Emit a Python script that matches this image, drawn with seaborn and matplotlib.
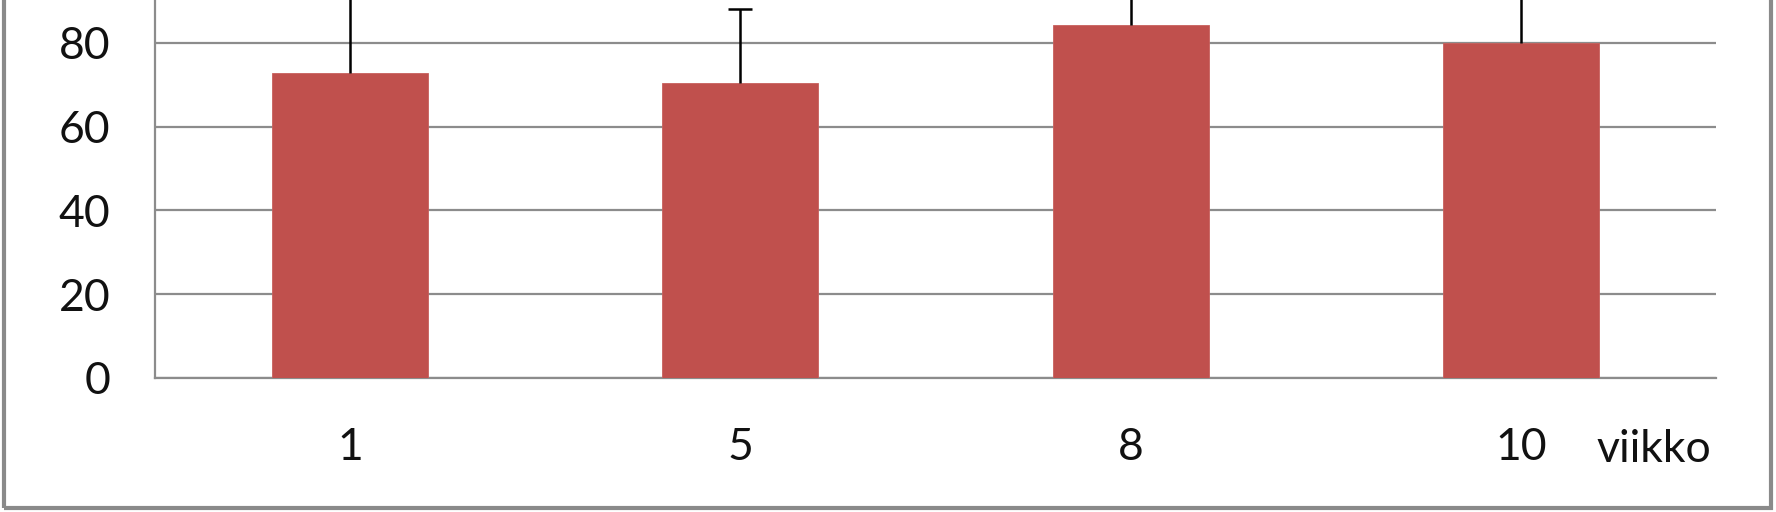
import matplotlib
matplotlib.use("Agg")
import matplotlib.pyplot as plt
import matplotlib.transforms as mtransforms
from matplotlib.patches import Rectangle
import seaborn as sns
import pandas as pd

# ---- data ----
weeks = ["1", "5", "8", "10"]
means = [72.7, 70.3, 84.2, 80.0]
err_plus = [20.0, 17.7, 12.0, 15.0]
y_ticks = [0, 20, 40, 60, 80]
x_unit_label = "viikko"

sns.set_theme(style="white")
plt.rcParams["font.family"] = ["Lato", "DejaVu Sans"]

W, H, DPI = 1776, 512, 100
fig = plt.figure(figsize=(W / DPI, H / DPI), dpi=DPI)
fig.patch.set_facecolor("white")

left_px, right_px, bottom_px = 155, 1716, 378
ax = fig.add_axes([left_px / W, (H - bottom_px) / H,
                   (right_px - left_px) / W, bottom_px / H])

df = pd.DataFrame({"week": weeks, "value": means})
sns.barplot(data=df, x="week", y="value", order=weeks, color="#C0504D",
            saturation=1, width=0.4, edgecolor="#C8605D", linewidth=0.6,
            errorbar=None, ax=ax, zorder=3)

xs = list(range(len(weeks)))
# plus-only error bars: stem without caps, then a cap at the top only
ax.errorbar(xs, means, yerr=[[0] * len(means), err_plus], fmt="none",
            ecolor="black", elinewidth=1.8, capsize=0, zorder=4)
tops = [m + e for m, e in zip(means, err_plus)]
ax.plot(xs, tops, linestyle="none", marker="_", markersize=17.3,
        markeredgewidth=1.8, color="black", zorder=4)

ax.set_ylim(0, 90.2)
ax.set_xlim(-0.5, len(weeks) - 0.5)
ax.set_yticks(y_ticks)
ax.set_yticklabels([str(t) for t in y_ticks])
ax.yaxis.grid(True, color="#8C8C8C", linewidth=1.6, zorder=0)
ax.xaxis.grid(False)
ax.set_axisbelow(True)

for side in ["top", "right"]:
    ax.spines[side].set_visible(False)
for side in ["left", "bottom"]:
    ax.spines[side].set_visible(True)
    ax.spines[side].set_color("#8C8C8C")
    ax.spines[side].set_linewidth(1.6)

ax.tick_params(axis="y", length=0, pad=32, labelsize=32, labelcolor="#111111")
ax.tick_params(axis="x", length=0, pad=35, labelsize=32, labelcolor="#111111")
ax.set_xlabel("")
ax.set_ylabel("")

# unit label on the right of the x tick labels
trans = mtransforms.blended_transform_factory(ax.transAxes, ax.transAxes)
ax.text(0.997, -(35 * DPI / 72 + 2) / bottom_px, x_unit_label,
        transform=trans, ha="right", va="top",
        fontsize=32, color="#111111")

# chart-area border (cropped at top)
border = Rectangle((3.5 / W, 1 - 508 / H), (1771 - 3.5) / W, 1.0,
                   transform=fig.transFigure, fill=False,
                   edgecolor="#8A8A8A", linewidth=3.0, clip_on=False)
fig.patches.append(border)

fig.savefig("out.png", dpi=DPI, facecolor="white")
